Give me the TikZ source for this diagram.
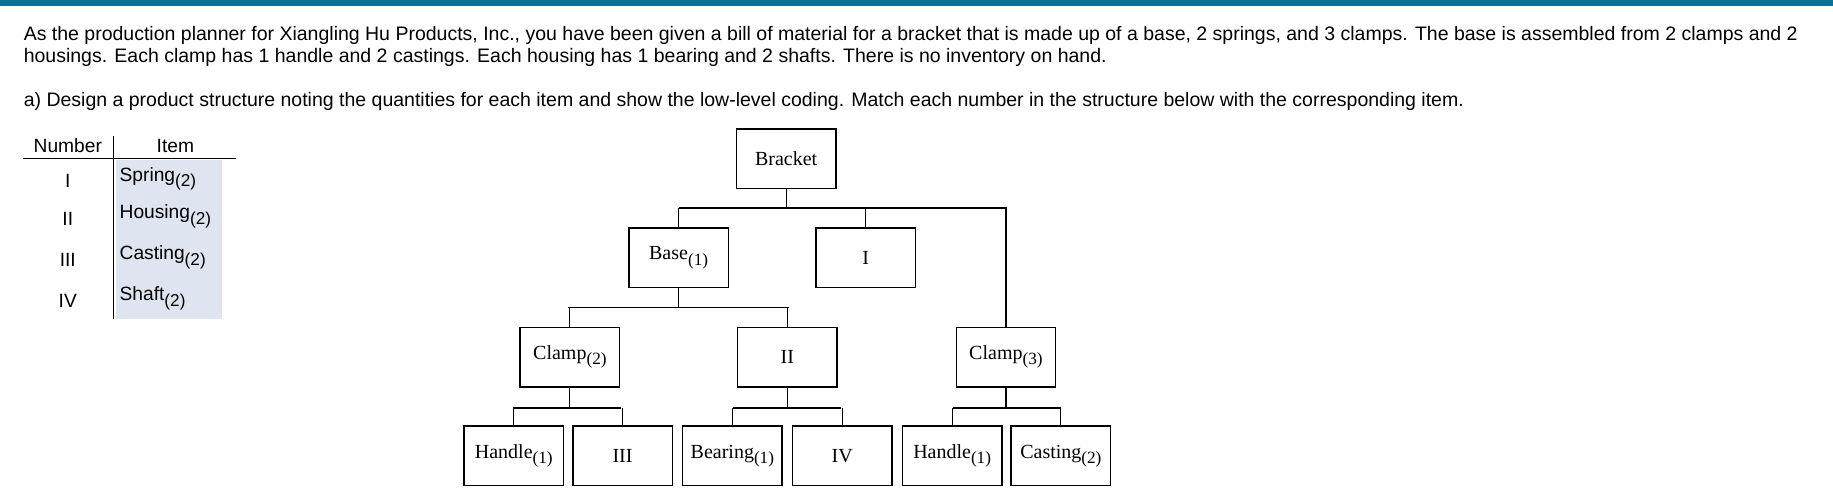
\documentclass[tikz,border=0pt]{standalone}
\usepackage{fontspec}
\setmainfont{Liberation Sans}
\newfontfamily\tms{Liberation Serif}
\definecolor{topbar}{HTML}{0E7094}
\definecolor{tblfill}{HTML}{DEE5F0}
\newcommand{\lowq}[1]{\raisebox{-0.55ex}{\fontsize{8.6}{9}\selectfont #1}}
\begin{document}
\begin{tikzpicture}[x=0.5845pt,y=-0.5845pt,
  txt/.style={anchor=west,inner sep=0pt,font=\fontsize{9.75}{11}\selectfont},
  box/.style={draw,line width=0.7pt,minimum width=49.7pt,minimum height=29.8pt,inner sep=0pt,font=\tms\fontsize{10}{11}\selectfont},
  cell/.style={anchor=west,inner sep=0pt,font=\fontsize{9.6}{11}\selectfont},
  num/.style={inner sep=0pt,font=\fontsize{9.6}{11}\selectfont},
  conn/.style={line width=0.6pt}]
\useasboundingbox (0,0) rectangle (1568,431);
\fill[topbar] (0,0) rectangle (1568,5);
\node[txt] (t1) at (20,30) {As the production planner for Xiangling Hu Products, Inc., you have been given a bill of material for a bracket that is made up of a base, 2 springs, and 3 clamps. The base is assembled from 2 clamps and 2};
\node[txt] (t2) at (20,49) {housings. Each clamp has 1 handle and 2 castings. Each housing has 1 bearing and 2 shafts. There is no inventory on hand.};
\node[txt] (t3) at (20,87) {a) Design a product structure noting the quantities for each item and show the low-level coding. Match each number in the structure below with the corresponding item.};
% table
\fill[tblfill] (99,137) rectangle (190,273);
\draw[line width=0.5pt] (20,136) -- (202,136);
\draw[line width=0.5pt] (97,116) -- (97,273);
\node[num] (hn) at (58,125) {Number};
\node[num] (hi) at (150,125) {Item};
\node[num] at (58,155) {I};   \node[cell] at (102,153) {Spring\lowq{(2)}};
\node[num] at (58,187) {II};  \node[cell] at (102,185) {Housing\lowq{(2)}};
\node[num] at (58,222) {III}; \node[cell] at (102,220) {Casting\lowq{(2)}};
\node[num] at (58,257) {IV};  \node[cell] at (102,255) {Shaft\lowq{(2)}};
% tree
\node[box] (br) at (672.5,136) {Bracket};
\node[box] (base) at (580.5,220.5) {Base\lowq{(1)}};
\node[box] (i) at (740.5,220.5) {I};
\node[box] (cl2) at (487.5,305.5) {Clamp\lowq{(2)}};
\node[box] (ii) at (673.5,305.5) {II};
\node[box] (cl3) at (860.5,305.5) {Clamp\lowq{(3)}};
\node[box] (h1) at (439.5,390) {Handle\lowq{(1)}};
\node[box] (iii) at (532.5,390) {III};
\node[box] (be) at (626.5,390) {Bearing\lowq{(1)}};
\node[box] (iv) at (720.5,390) {IV};
\node[box] (h2) at (814.5,390) {Handle\lowq{(1)}};
\node[box] (ca) at (907.5,390) {Casting\lowq{(2)}};
% connectors
\draw[conn] (br.south) -- (br.south |- 0,178);
\draw[conn] (581,178) -- (861,178);
\draw[conn] (base.north) -- (base.north |- 0,178);
\draw[conn] (i.north) -- (i.north |- 0,178);
\draw[conn] (cl3.north) -- (cl3.north |- 0,178);
\draw[conn] (base.south) -- (base.south |- 0,263);
\draw[conn] (486,263) -- (675,263);
\draw[conn] (cl2.north) -- (cl2.north |- 0,263);
\draw[conn] (ii.north) -- (ii.north |- 0,263);
\draw[conn] (cl2.south) -- (cl2.south |- 0,349);
\draw[conn] (439,349) -- (531,349);
\draw[conn] (h1.north) -- (h1.north |- 0,349);
\draw[conn] (iii.north) -- (iii.north |- 0,349);
\draw[conn] (ii.south) -- (ii.south |- 0,349);
\draw[conn] (627,349) -- (719,349);
\draw[conn] (be.north) -- (be.north |- 0,349);
\draw[conn] (iv.north) -- (iv.north |- 0,349);
\draw[conn] (cl3.south) -- (cl3.south |- 0,349);
\draw[conn] (815,349) -- (908,349);
\draw[conn] (h2.north) -- (h2.north |- 0,349);
\draw[conn] (ca.north) -- (ca.north |- 0,349);
\end{tikzpicture}
\end{document}
